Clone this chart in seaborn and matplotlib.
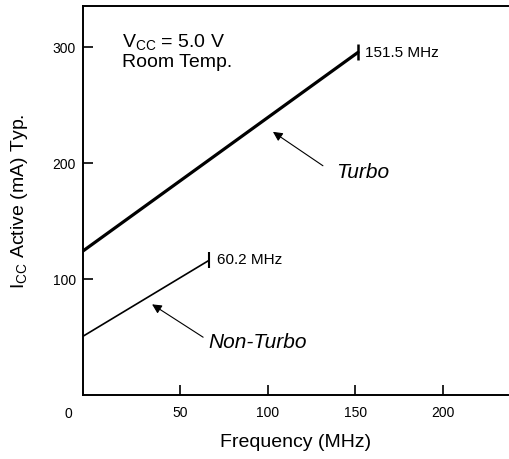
import pandas as pd
import seaborn as sns
import matplotlib.pyplot as plt

# 读图得到的数据 (MHz, mA)
turbo_freq = [-5.3, 151.5]
turbo_icc = [124, 295]
non_turbo_freq = [-5.3, 66.6]
non_turbo_icc = [50.6, 116]
x_ticks = [50, 100, 150, 200]
y_ticks = [100, 200, 300]

sns.set_theme(style="white")
plt.rcParams['font.family'] = ['Liberation Sans', 'DejaVu Sans']
plt.rcParams['mathtext.default'] = 'regular'
plt.rcParams['text.color'] = 'black'
plt.rcParams['axes.labelcolor'] = 'black'

df_turbo = pd.DataFrame({'freq': turbo_freq, 'icc': turbo_icc})
df_non = pd.DataFrame({'freq': non_turbo_freq, 'icc': non_turbo_icc})

fig = plt.figure(figsize=(5.09, 4.60), dpi=100)
ax = fig.add_axes([0.163, 0.139, 0.835, 0.846])

sns.lineplot(data=df_turbo, x='freq', y='icc', ax=ax, color='black', lw=2.3)
sns.lineplot(data=df_non, x='freq', y='icc', ax=ax, color='black', lw=1.2)
# 终点竖线标记
ax.plot(df_turbo['freq'].iloc[-1:], df_turbo['icc'].iloc[-1:], ls='none', marker='|',
        color='black', markersize=12, markeredgewidth=1.8)
ax.plot(df_non['freq'].iloc[-1:], df_non['icc'].iloc[-1:], ls='none', marker='|',
        color='black', markersize=12, markeredgewidth=1.5)

ax.set_xlim(-5.3, 237)
ax.set_ylim(0, 335)
ax.set_xticks(x_ticks)
ax.set_yticks(y_ticks)
ax.tick_params(bottom=True, left=True, direction='in', length=7, width=1.2,
               labelsize=10, colors='black')
ax.tick_params(axis='x', pad=7)
ax.tick_params(axis='y', pad=5)
# 原图 "0" 写在左边框外侧
ax.text(-0.035, -0.045, "0", transform=ax.transAxes, ha='center', va='center', fontsize=10)

for side in ['left', 'bottom', 'top']:
    ax.spines[side].set_visible(True)
    ax.spines[side].set_color('black')
    ax.spines[side].set_linewidth(1.4)
ax.spines['right'].set_visible(False)

ax.set_xlabel("Frequency (MHz)", fontsize=14, labelpad=10)
ax.set_ylabel(r"I$_{CC}$ Active (mA) Typ.", fontsize=14, labelpad=16)

ax.text(16.9, 300.4, r"V$_{CC}$ = 5.0 V", fontsize=14, va='baseline')
ax.text(16.9, 283, "Room Temp.", fontsize=14, va='baseline')
ax.text(155.6, turbo_icc[1], "151.5 MHz", fontsize=11, va='center')
ax.text(71.1, non_turbo_icc[1] + 1.5, "60.2 MHz", fontsize=11, va='center')

arrow = dict(arrowstyle='-|>', lw=0.8, color='black', mutation_scale=14, shrinkA=0, shrinkB=0)
ax.annotate("", xy=(103, 226.6), xytext=(131.5, 197.4), arrowprops=arrow)
ax.annotate("", xy=(34.1, 78.1), xytext=(63.2, 49.8), arrowprops=arrow)
ax.text(153.9, 192.3, "Turbo", fontsize=15, style='italic', ha='center', va='center')
ax.text(94.5, 46.4, "Non-Turbo", fontsize=15, style='italic', ha='center', va='center')

fig.savefig("out.png", dpi=100)
